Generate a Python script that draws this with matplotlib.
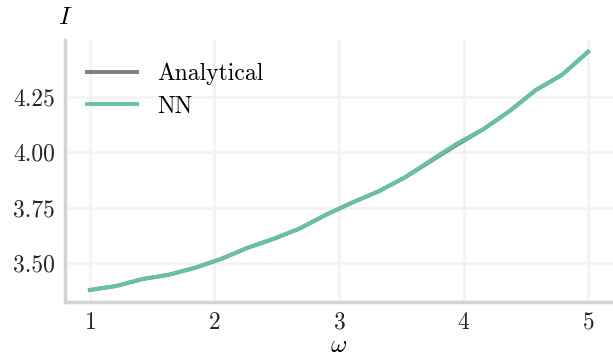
import numpy as np
import matplotlib.pyplot as plt

plt.rcParams['font.family'] = 'cmr10'
plt.rcParams['mathtext.fontset'] = 'cm'
plt.rcParams['axes.formatter.use_mathtext'] = True

# frequency grid and integral values
omega = [1.000, 1.211, 1.421, 1.632, 1.842, 2.053, 2.263, 2.474, 2.684, 2.895,
         3.105, 3.316, 3.526, 3.737, 3.947, 4.158, 4.368, 4.579, 4.789, 5.000]
I_analytical = [3.377, 3.395, 3.426, 3.446, 3.477, 3.517, 3.567, 3.608, 3.655, 3.717,
                3.772, 3.823, 3.885, 3.960, 4.034, 4.104, 4.186, 4.281, 4.350, 4.455]
I_nn = [3.377, 3.395, 3.427, 3.445, 3.477, 3.518, 3.568, 3.609, 3.655, 3.718,
        3.773, 3.823, 3.886, 3.964, 4.040, 4.105, 4.186, 4.282, 4.350, 4.455]

fig = plt.figure(figsize=(6.13, 3.56), dpi=100)
ax = fig.add_axes([0.106, 0.152, 0.894, 0.736])

ax.plot(omega, I_analytical, color='#7f7f7f', lw=2.8, label='Analytical')
ax.plot(omega, I_nn, color='#66c2a5', lw=2.8, label='NN')

ax.set_yticks([3.50, 3.75, 4.00, 4.25])
ax.set_yticklabels(['3.50', '3.75', '4.00', '4.25'])
ax.set_xticks([1, 2, 3, 4, 5])

ax.grid(True, color='#f2f2f2', lw=1.8)
ax.set_axisbelow(True)
for side in ['top', 'right']:
    ax.spines[side].set_visible(False)
for side in ['left', 'bottom']:
    ax.spines[side].set_color('#d3d3d3')
    ax.spines[side].set_linewidth(2.5)
ax.tick_params(length=0, labelsize=17, pad=7, labelcolor='#262626')

ax.set_xlabel(r'$\omega$', fontsize=18, labelpad=1)
ax.set_ylabel(r'$I$', fontsize=18, rotation=0, ha='center', va='center')
ax.yaxis.set_label_coords(0.0, 1.085)

ax.legend(loc='upper left', frameon=False, fontsize=17, handlelength=2.1,
          handletextpad=0.85, borderaxespad=0.55, labelspacing=0.45)

fig.savefig('out.png', dpi=100)
